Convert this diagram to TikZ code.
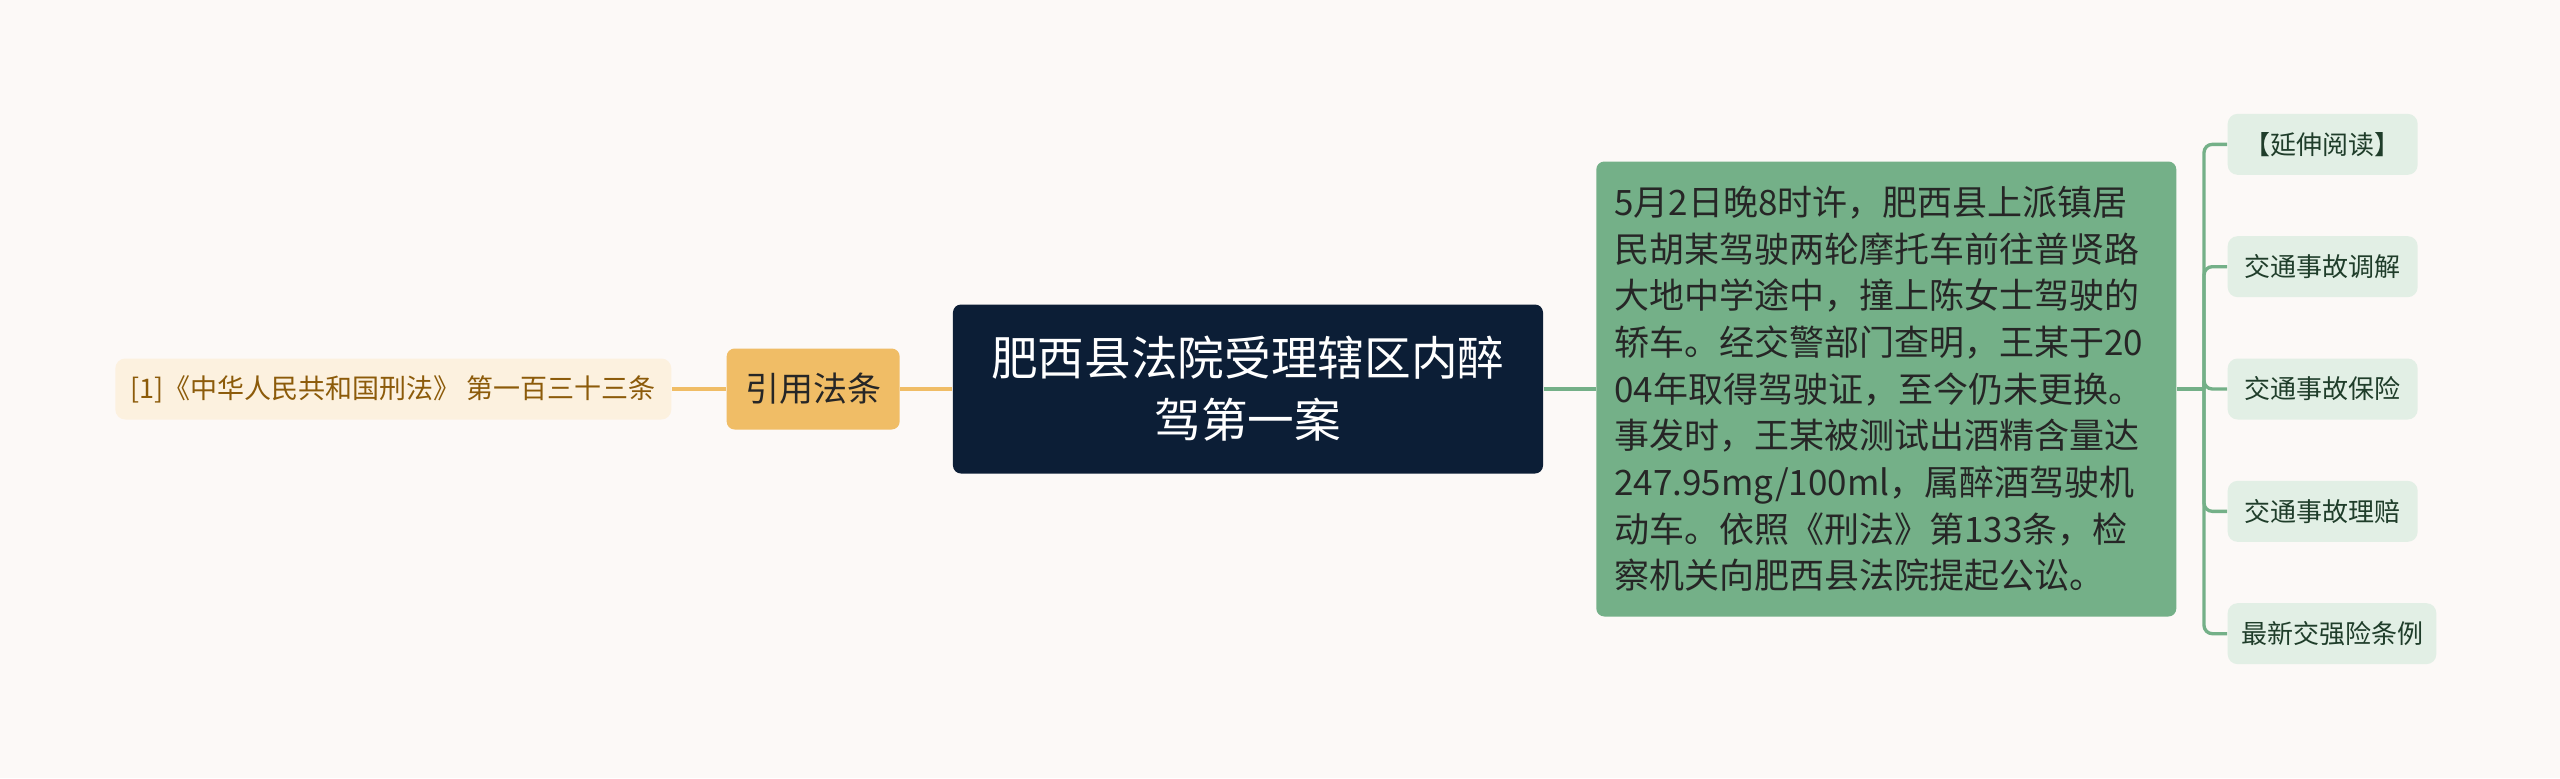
\documentclass[tikz,border=0pt]{standalone}
\usepackage{fontspec}
\setmainfont{Noto Sans CJK SC}
\usetikzlibrary{positioning}
\definecolor{paper}{HTML}{FCF9F7}
\definecolor{rootblue}{HTML}{0C1E36}
\definecolor{citeorange}{HTML}{F0BD66}
\definecolor{citecream}{HTML}{FCF1DF}
\definecolor{citebrown}{HTML}{8C5B0A}
\definecolor{factgreen}{HTML}{74B088}
\definecolor{leafmint}{HTML}{E2EFE5}
\definecolor{leafink}{HTML}{1F3D2A}

\begin{document}
\begin{tikzpicture}[
  every node/.style={font=\fontsize{7.8}{9.5}\selectfont, inner sep=0pt},
  root/.style={fill=rootblue, text=white, rounded corners=2.4pt, minimum width=177pt,
    minimum height=50.7pt, align=center, font=\fontsize{14}{18.6}\selectfont},
  cite/.style={fill=citeorange, text=black!85, rounded corners=2.4pt, minimum width=51.9pt,
    minimum height=24.3pt, font=\fontsize{10.2}{12}\selectfont},
  citeleaf/.style={fill=citecream, text=citebrown, rounded corners=3pt, minimum width=166.8pt,
    minimum height=18.3pt, font=\fontsize{8.1}{9.5}\selectfont},
  fact/.style={fill=factgreen, text=black!85, rounded corners=2.4pt, text width=163.2pt,
    inner xsep=5.4pt, minimum height=136.5pt, align=left, font=\fontsize{10.5}{14}\selectfont},
  leaf/.style={fill=leafmint, text=leafink, rounded corners=3pt, minimum width=57pt,
    minimum height=18.3pt, inner xsep=4pt},
  oline/.style={draw=citeorange, line width=1pt},
  gline/.style={draw=factgreen, line width=1pt}]
\fill[paper] (-374.4pt,116.7pt) rectangle (393.6pt,-116.7pt);
\useasboundingbox (-374.4pt,116.7pt) rectangle (393.6pt,-116.7pt);

% centre and left side
\node[root] (root) at (0,0) {肥西县法院受理辖区内醉\\驾第一案};
\node[cite, left=15.6pt of root] (cite) {引用法条};
\node[citeleaf, left=16.2pt of cite] (law) {[1]《中华人民共和国刑法》 第一百三十三条};
\draw[oline] (root) -- (cite);
\draw[oline] (cite) -- (law);

% right side
\node[fact, right=15.6pt of root] (facts) {5月2日晚8时许，肥西县上派镇居\\
民胡某驾驶两轮摩托车前往普贤路\\
大地中学途中，撞上陈女士驾驶的\\
轿车。经交警部门查明，王某于20\\
04年取得驾驶证，至今仍未更换。\\
事发时，王某被测试出酒精含量达\\
247.95mg/100ml，属醉酒驾驶机\\
动车。依照《刑法》第133条，检\\
察机关向肥西县法院提起公讼。};
\draw[gline] (root) -- (facts);
\coordinate[right=8.1pt of facts] (hub);
\draw[gline] (facts) -- (hub);

\node[leaf, right=15pt of facts] (l3) {交通事故保险};
\node[leaf, above=18pt of l3.north west, anchor=south west] (l2) {交通事故调解};
\node[leaf, above=18pt of l2.north west, anchor=south west] (l1) {【延伸阅读】};
\node[leaf, below=18pt of l3.south west, anchor=north west] (l4) {交通事故理赔};
\node[leaf, below=18pt of l4.south west, anchor=north west] (l5) {最新交强险条例};
\foreach \n in {1,...,5}
  \draw[gline, rounded corners=2.5pt] (hub) |- (l\n.west);
\end{tikzpicture}
\end{document}
